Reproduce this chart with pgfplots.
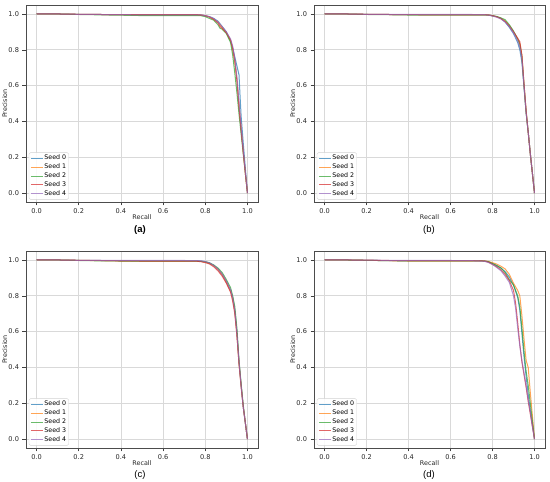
\documentclass[border=0pt]{standalone}
\usepackage{pgfplots}
\pgfplotsset{compat=1.18}
\usepackage{fontspec}
\setmainfont{DejaVu Sans}
\newfontfamily\capfont{Liberation Sans}
\definecolor{c0}{HTML}{1F77B4}
\definecolor{c1}{HTML}{FF7F0E}
\definecolor{c2}{HTML}{2CA02C}
\definecolor{c3}{HTML}{D62728}
\definecolor{c4}{HTML}{9467BD}
\pgfplotsset{
  panel/.style={
    scale only axis,
    anchor=south west,
    xmin=-0.05, xmax=1.05, ymin=-0.05, ymax=1.05,
    xtick={0,0.2,0.4,0.6,0.8,1.0},
    ytick={0,0.2,0.4,0.6,0.8,1.0},
    tick pos=left,
    tick align=outside,
    major tick length=3.5pt,
    tick style={black!75, line width=0.5pt},
    axis line style={black!70, line width=0.6pt},
    grid=major,
    grid style={gray!30, line width=0.6pt},
    /pgf/number format/assume math mode=true,
    /pgf/number format/.cd, fixed, fixed zerofill, precision=1, /pgfplots/.cd,
    ticklabel style={font=\fontsize{6.6}{7}\selectfont, black!85},
    xlabel={Recall}, ylabel={Precision},
    label style={font=\fontsize{6.4}{7}\selectfont, black!85},
    xlabel style={yshift=4pt, inner sep=1pt},
    ylabel style={yshift=-5.5pt},
    legend cell align=left,
    legend style={at={(0.012,0.012)}, anchor=south west, draw=gray!35,
      rounded corners=1.5pt, fill=white, fill opacity=0.85, text opacity=1,
      font=\fontsize{6.3}{7}\selectfont, inner sep=1.4pt,
      nodes={inner sep=1.1pt}, row sep=0.4pt},
    legend image code/.code={\draw[#1] (0pt,0pt) -- (12pt,0pt);},
    every axis plot/.append style={line width=1pt, mark=none, opacity=0.7},
    cycle list={{c0},{c1},{c2},{c3},{c4}},
  }
}
\begin{document}
\begin{tikzpicture}
\useasboundingbox (0,0) rectangle (550pt,482pt);
% ---------------- (a)
\begin{axis}[panel, at={(26pt,280pt)}, width=232pt, height=197pt]
\addplot coordinates {(0,1)(0.1,1)(0.2,0.998)(0.3,0.997)(0.4,0.996)(0.5,0.995)(0.6,0.995)(0.7,0.995)(0.76,0.995)
 (0.78,0.994)(0.80,0.99)(0.82,0.985)(0.84,0.975)(0.86,0.96)(0.87,0.945)(0.88,0.93)(0.90,0.90)(0.92,0.85)(0.93,0.81)(0.94,0.76)(0.95,0.71)(0.96,0.66)(0.965,0.54)(0.97,0.43)(0.98,0.28)(0.99,0.14)(1.0,0)};
\addplot coordinates {(0,1)(0.1,1)(0.2,0.998)(0.3,0.997)(0.4,0.996)(0.5,0.995)(0.6,0.995)(0.7,0.995)(0.76,0.995)
 (0.78,0.994)(0.80,0.99)(0.82,0.983)(0.84,0.97)(0.86,0.955)(0.88,0.925)(0.90,0.895)(0.92,0.85)(0.93,0.80)(0.94,0.73)(0.95,0.63)(0.96,0.49)(0.97,0.36)(0.98,0.23)(0.99,0.11)(1.0,0)};
\addplot coordinates {(0,1)(0.1,1)(0.2,0.997)(0.3,0.995)(0.4,0.993)(0.5,0.991)(0.6,0.99)(0.7,0.99)(0.76,0.99)
 (0.78,0.99)(0.80,0.985)(0.82,0.975)(0.84,0.965)(0.86,0.94)(0.87,0.92)(0.88,0.915)(0.90,0.89)(0.92,0.84)(0.93,0.77)(0.94,0.67)(0.95,0.56)(0.96,0.44)(0.97,0.33)(0.98,0.22)(0.99,0.11)(1.0,0)};
\addplot coordinates {(0,1)(0.1,1)(0.2,0.998)(0.3,0.997)(0.4,0.996)(0.5,0.996)(0.6,0.996)(0.7,0.996)(0.76,0.996)
 (0.78,0.994)(0.80,0.99)(0.82,0.983)(0.84,0.97)(0.86,0.95)(0.87,0.93)(0.88,0.92)(0.90,0.895)(0.92,0.855)(0.93,0.81)(0.94,0.74)(0.95,0.63)(0.96,0.48)(0.97,0.35)(0.98,0.23)(0.99,0.11)(1.0,0)};
\addplot coordinates {(0,1)(0.1,1)(0.2,0.998)(0.3,0.997)(0.4,0.996)(0.5,0.995)(0.6,0.995)(0.7,0.995)(0.76,0.995)
 (0.78,0.995)(0.80,0.99)(0.82,0.985)(0.84,0.975)(0.86,0.955)(0.88,0.93)(0.90,0.90)(0.92,0.86)(0.93,0.82)(0.94,0.75)(0.95,0.65)(0.96,0.51)(0.97,0.37)(0.98,0.24)(0.99,0.12)(1.0,0)};
\legend{Seed 0,Seed 1,Seed 2,Seed 3,Seed 4}
\end{axis}
% ---------------- (b)
\begin{axis}[panel, at={(314pt,280pt)}, width=231pt, height=197pt]
\addplot coordinates {(0,1)(0.1,1)(0.2,0.998)(0.3,0.997)(0.4,0.996)(0.5,0.996)(0.6,0.996)(0.7,0.996)(0.76,0.996)
 (0.78,0.995)(0.80,0.99)(0.82,0.985)(0.84,0.975)(0.86,0.955)(0.88,0.925)(0.90,0.89)(0.92,0.84)(0.93,0.80)(0.94,0.73)(0.95,0.59)(0.96,0.45)(0.97,0.34)(0.98,0.22)(0.99,0.11)(1.0,0)};
\addplot coordinates {(0,1)(0.1,1)(0.2,0.998)(0.3,0.997)(0.4,0.996)(0.5,0.996)(0.6,0.996)(0.7,0.996)(0.76,0.996)
 (0.78,0.995)(0.80,0.99)(0.82,0.985)(0.84,0.975)(0.86,0.96)(0.88,0.935)(0.90,0.90)(0.92,0.86)(0.93,0.835)(0.94,0.77)(0.95,0.61)(0.96,0.46)(0.97,0.34)(0.98,0.22)(0.99,0.11)(1.0,0)};
\addplot coordinates {(0,1)(0.1,1)(0.2,0.997)(0.3,0.996)(0.4,0.994)(0.5,0.993)(0.6,0.993)(0.7,0.993)(0.76,0.993)
 (0.78,0.993)(0.80,0.99)(0.82,0.986)(0.84,0.978)(0.86,0.968)(0.88,0.94)(0.90,0.905)(0.92,0.86)(0.93,0.83)(0.94,0.76)(0.95,0.60)(0.96,0.45)(0.97,0.34)(0.98,0.22)(0.99,0.11)(1.0,0)};
\addplot coordinates {(0,1)(0.1,1)(0.2,0.998)(0.3,0.997)(0.4,0.996)(0.5,0.995)(0.6,0.995)(0.7,0.995)(0.76,0.995)
 (0.78,0.994)(0.80,0.99)(0.82,0.984)(0.84,0.974)(0.86,0.958)(0.88,0.932)(0.90,0.90)(0.92,0.865)(0.93,0.845)(0.94,0.77)(0.95,0.61)(0.96,0.46)(0.97,0.34)(0.98,0.22)(0.99,0.11)(1.0,0)};
\addplot coordinates {(0,1)(0.1,1)(0.2,0.998)(0.3,0.997)(0.4,0.997)(0.5,0.997)(0.6,0.997)(0.7,0.997)(0.76,0.996)
 (0.78,0.994)(0.80,0.988)(0.82,0.982)(0.84,0.972)(0.86,0.955)(0.88,0.93)(0.90,0.895)(0.92,0.85)(0.93,0.815)(0.94,0.75)(0.95,0.60)(0.96,0.45)(0.97,0.34)(0.98,0.22)(0.99,0.11)(1.0,0)};
\legend{Seed 0,Seed 1,Seed 2,Seed 3,Seed 4}
\end{axis}
% ---------------- (c)
\begin{axis}[panel, at={(26pt,34pt)}, width=232pt, height=197pt]
\addplot coordinates {(0,1)(0.1,1)(0.2,0.998)(0.3,0.997)(0.4,0.996)(0.5,0.995)(0.6,0.995)(0.7,0.995)(0.76,0.995)
 (0.78,0.994)(0.80,0.99)(0.82,0.983)(0.84,0.97)(0.86,0.95)(0.88,0.92)(0.90,0.88)(0.92,0.83)(0.93,0.79)(0.94,0.72)(0.95,0.60)(0.96,0.43)(0.97,0.30)(0.98,0.18)(0.99,0.09)(1.0,0)};
\addplot coordinates {(0,1)(0.1,1)(0.2,0.998)(0.3,0.996)(0.4,0.994)(0.5,0.993)(0.6,0.993)(0.7,0.993)(0.76,0.993)
 (0.78,0.992)(0.80,0.988)(0.82,0.98)(0.84,0.968)(0.86,0.948)(0.88,0.918)(0.90,0.875)(0.92,0.825)(0.93,0.785)(0.94,0.71)(0.95,0.58)(0.96,0.42)(0.97,0.30)(0.98,0.18)(0.99,0.09)(1.0,0)};
\addplot coordinates {(0,1)(0.1,1)(0.2,0.997)(0.3,0.995)(0.4,0.994)(0.5,0.993)(0.6,0.993)(0.7,0.993)(0.76,0.993)
 (0.78,0.992)(0.80,0.99)(0.82,0.984)(0.84,0.972)(0.86,0.955)(0.88,0.93)(0.90,0.89)(0.92,0.845)(0.93,0.80)(0.94,0.74)(0.95,0.62)(0.96,0.44)(0.97,0.31)(0.98,0.19)(0.99,0.09)(1.0,0)};
\addplot coordinates {(0,1)(0.1,1)(0.2,0.998)(0.3,0.997)(0.4,0.995)(0.5,0.994)(0.6,0.994)(0.7,0.994)(0.76,0.993)
 (0.78,0.99)(0.80,0.985)(0.82,0.978)(0.84,0.962)(0.86,0.94)(0.88,0.91)(0.90,0.87)(0.92,0.82)(0.93,0.77)(0.94,0.70)(0.95,0.58)(0.96,0.42)(0.97,0.29)(0.98,0.18)(0.99,0.09)(1.0,0)};
\addplot coordinates {(0,1)(0.1,1)(0.2,0.998)(0.3,0.998)(0.4,0.997)(0.5,0.997)(0.6,0.997)(0.7,0.997)(0.76,0.996)
 (0.78,0.995)(0.80,0.991)(0.82,0.984)(0.84,0.97)(0.86,0.95)(0.88,0.922)(0.90,0.882)(0.92,0.832)(0.93,0.79)(0.94,0.72)(0.95,0.59)(0.96,0.43)(0.97,0.30)(0.98,0.18)(0.99,0.09)(1.0,0)};
\legend{Seed 0,Seed 1,Seed 2,Seed 3,Seed 4}
\end{axis}
% ---------------- (d)
\begin{axis}[panel, at={(314pt,34pt)}, width=231pt, height=197pt]
\addplot coordinates {(0,1)(0.1,1)(0.2,0.998)(0.3,0.996)(0.4,0.995)(0.5,0.995)(0.6,0.995)(0.7,0.995)(0.76,0.995)
 (0.78,0.99)(0.80,0.98)(0.82,0.97)(0.84,0.955)(0.86,0.935)(0.88,0.905)(0.90,0.86)(0.92,0.79)(0.93,0.72)(0.94,0.59)(0.95,0.46)(0.96,0.35)(0.97,0.25)(0.98,0.16)(0.99,0.08)(1.0,0)};
\addplot coordinates {(0,1)(0.1,1)(0.2,0.998)(0.3,0.996)(0.4,0.994)(0.5,0.994)(0.6,0.994)(0.7,0.994)(0.76,0.995)
 (0.78,0.992)(0.80,0.985)(0.82,0.977)(0.84,0.965)(0.86,0.95)(0.88,0.92)(0.90,0.87)(0.92,0.83)(0.93,0.80)(0.94,0.69)(0.95,0.56)(0.96,0.44)(0.97,0.40)(0.98,0.26)(0.99,0.13)(1.0,0)};
\addplot coordinates {(0,1)(0.1,1)(0.2,0.998)(0.3,0.996)(0.4,0.995)(0.5,0.995)(0.6,0.995)(0.7,0.995)(0.76,0.994)
 (0.78,0.99)(0.80,0.98)(0.82,0.968)(0.84,0.955)(0.86,0.93)(0.88,0.89)(0.90,0.86)(0.92,0.80)(0.93,0.74)(0.94,0.62)(0.95,0.49)(0.96,0.38)(0.97,0.30)(0.98,0.20)(0.99,0.10)(1.0,0)};
\addplot coordinates {(0,1)(0.1,1)(0.2,0.999)(0.3,0.997)(0.4,0.996)(0.5,0.996)(0.6,0.996)(0.7,0.996)(0.76,0.994)
 (0.78,0.988)(0.80,0.975)(0.82,0.962)(0.84,0.945)(0.86,0.92)(0.88,0.885)(0.90,0.83)(0.91,0.76)(0.92,0.65)(0.93,0.53)(0.94,0.43)(0.95,0.36)(0.96,0.29)(0.97,0.21)(0.98,0.14)(0.99,0.07)(1.0,0)};
\addplot coordinates {(0,1)(0.1,1)(0.2,0.999)(0.3,0.998)(0.4,0.997)(0.5,0.997)(0.6,0.997)(0.7,0.996)(0.76,0.993)
 (0.78,0.986)(0.80,0.975)(0.82,0.958)(0.84,0.94)(0.86,0.91)(0.88,0.875)(0.90,0.80)(0.91,0.73)(0.92,0.62)(0.93,0.52)(0.94,0.44)(0.95,0.37)(0.96,0.30)(0.97,0.22)(0.98,0.15)(0.99,0.07)(1.0,0)};
\legend{Seed 0,Seed 1,Seed 2,Seed 3,Seed 4}
\end{axis}
% captions
\node[inner sep=0pt, font=\capfont\fontsize{9.5}{11}\selectfont\bfseries] at (140pt,252pt) {(a)};
\node[inner sep=0pt, font=\capfont\fontsize{9.5}{11}\selectfont] at (429pt,252pt) {(b)};
\node[inner sep=0pt, font=\capfont\fontsize{9.5}{11}\selectfont] at (140pt,7pt) {(c)};
\node[inner sep=0pt, font=\capfont\fontsize{9.5}{11}\selectfont] at (429pt,7pt) {(d)};
\end{tikzpicture}
\end{document}
